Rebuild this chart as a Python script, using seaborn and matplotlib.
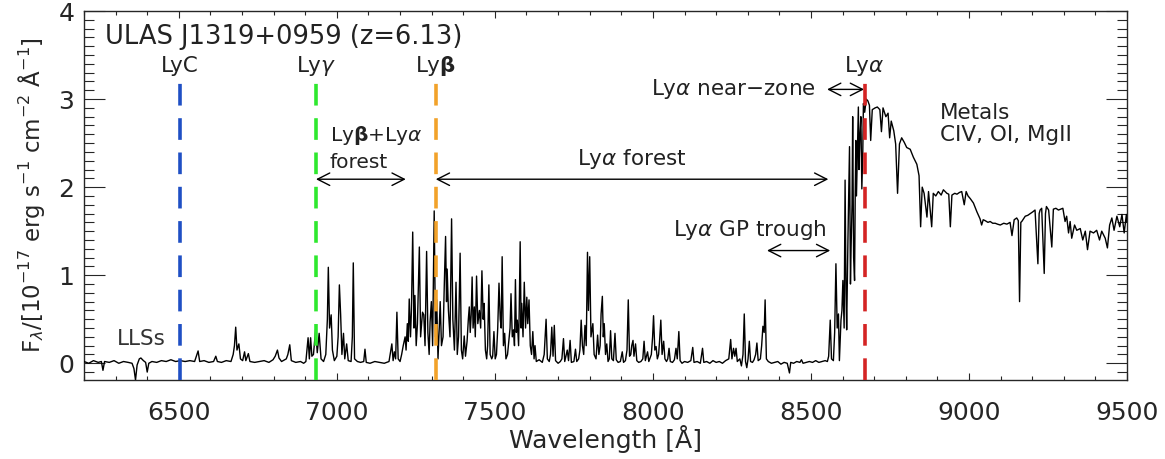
import numpy as np
import pandas as pd
import matplotlib
matplotlib.use("Agg")
import matplotlib.pyplot as plt
import seaborn as sns

# ---------------- data ----------------
wavelength = [
    6200, 6215, 6230, 6245, 6255, 6260, 6265, 6280, 6295, 6310, 6325, 6340, 6352, 6358, 6363, 6368,
    6375, 6380, 6388, 6395, 6400, 6405, 6415, 6430, 6445, 6460, 6475, 6490, 6505, 6520, 6535, 6550,
    6561, 6566, 6580, 6595, 6610, 6617, 6622, 6635, 6650, 6665, 6672, 6676, 6680, 6684, 6690, 6695,
    6702, 6708, 6712, 6720, 6725, 6740, 6755, 6770, 6785, 6798, 6805, 6812, 6817, 6825, 6840, 6845,
    6851, 6856, 6870, 6885, 6895, 6902, 6909, 6913, 6917, 6921, 6926, 6933, 6938, 6944, 6950, 6958,
    6965, 6970, 6973, 6977, 6982, 6986, 6992, 7000, 7004, 7008, 7012, 7016, 7021, 7025, 7031, 7036,
    7045, 7049, 7052, 7056, 7065, 7075, 7085, 7089, 7093, 7105, 7120, 7135, 7150, 7165, 7174, 7178,
    7182, 7186, 7190, 7194, 7200, 7205, 7210, 7216, 7219, 7223, 7226, 7229, 7233, 7236, 7240, 7244,
    7247, 7251, 7255, 7261, 7265, 7271, 7275, 7279, 7284, 7288, 7292, 7295, 7299, 7303, 7308, 7312,
    7316, 7320, 7324, 7327, 7331, 7336, 7340, 7344, 7347, 7349, 7353, 7358, 7363, 7367, 7372, 7377,
    7381, 7385, 7390, 7394, 7398, 7403, 7407, 7412, 7416, 7419, 7422, 7425, 7428, 7431, 7435, 7438,
    7442, 7446, 7451, 7455, 7459, 7463, 7466, 7470, 7474, 7477, 7481, 7485, 7490, 7493, 7497, 7501,
    7505, 7509, 7513, 7517, 7520, 7523, 7527, 7531, 7535, 7540, 7544, 7548, 7551, 7555, 7559, 7562,
    7565, 7568, 7571, 7575, 7577, 7580, 7583, 7585, 7589, 7593, 7597, 7601, 7604, 7608, 7612, 7616,
    7620, 7624, 7627, 7631, 7640, 7650, 7656, 7662, 7666, 7672, 7676, 7680, 7684, 7688, 7692, 7700,
    7707, 7712, 7717, 7721, 7729, 7733, 7738, 7742, 7750, 7755, 7759, 7765, 7769, 7773, 7777, 7781,
    7785, 7789, 7793, 7796, 7800, 7804, 7810, 7814, 7820, 7825, 7829, 7833, 7836, 7840, 7843, 7846,
    7850, 7854, 7858, 7862, 7866, 7870, 7875, 7880, 7884, 7890, 7897, 7903, 7907, 7913, 7918, 7922,
    7926, 7930, 7933, 7937, 7940, 7945, 7949, 7955, 7962, 7968, 7972, 7976, 7983, 7987, 7995, 7999,
    8002, 8006, 8010, 8014, 8018, 8021, 8025, 8029, 8034, 8038, 8043, 8047, 8051, 8055, 8062, 8068,
    8073, 8077, 8082, 8086, 8092, 8100, 8110, 8120, 8126, 8130, 8140, 8150, 8157, 8161, 8170, 8180,
    8190, 8200, 8210, 8220, 8230, 8240, 8246, 8250, 8255, 8259, 8263, 8267, 8275, 8280, 8285, 8289,
    8293, 8297, 8301, 8305, 8309, 8315, 8320, 8325, 8329, 8333, 8340, 8344, 8348, 8352, 8355, 8359,
    8365, 8375, 8385, 8395, 8405, 8415, 8425, 8432, 8436, 8445, 8455, 8465, 8470, 8475, 8485, 8495,
    8505, 8515, 8525, 8535, 8545, 8552, 8556, 8561, 8565, 8571, 8575, 8579, 8583, 8587, 8590, 8595,
    8598, 8601, 8605, 8608, 8611, 8613, 8617, 8622, 8625, 8627, 8630, 8632, 8635, 8638, 8640, 8642,
    8644, 8647, 8650, 8652, 8655, 8658, 8661, 8664, 8666, 8670, 8675, 8680, 8685, 8689, 8694, 8703,
    8710, 8718, 8723, 8728, 8737, 8744, 8749, 8754, 8762, 8768, 8774, 8780, 8787, 8795, 8803, 8814,
    8824, 8835, 8842, 8847, 8852, 8858, 8867, 8872, 8882, 8887, 8895, 8903, 8912, 8919, 8930, 8936,
    8941, 8946, 8955, 8962, 8970, 8977, 8985, 8991, 8997, 9004, 9014, 9025, 9035, 9040, 9045, 9051,
    9060, 9067, 9075, 9083, 9090, 9099, 9110, 9120, 9130, 9136, 9143, 9151, 9156, 9160, 9164, 9167,
    9178, 9186, 9194, 9202, 9209, 9218, 9222, 9225, 9230, 9238, 9242, 9245, 9252, 9262, 9267, 9275,
    9283, 9290, 9297, 9304, 9309, 9315, 9320, 9325, 9334, 9341, 9352, 9360, 9368, 9375, 9383, 9394,
    9404, 9413, 9420, 9431, 9438, 9445, 9452, 9459, 9468, 9477, 9484, 9491, 9498, 9500,
]
flux = [
    0.02, 0.00, 0.03, 0.01, 0.02, -0.08, 0.02, 0.01, 0.03, 0.00, 0.02, 0.01, 0.00, -0.06, -0.19, -0.02,
    0.05, 0.06, 0.03, 0.01, -0.10, 0.00, 0.02, 0.01, 0.03, 0.02, 0.04, 0.02, 0.03, 0.02, 0.03, 0.02,
    0.14, 0.02, 0.03, 0.01, 0.02, 0.08, 0.02, 0.01, 0.03, 0.02, 0.10, 0.20, 0.41, 0.15, 0.22, 0.05,
    0.03, 0.13, 0.03, 0.11, 0.02, 0.01, 0.02, 0.03, 0.01, 0.04, 0.08, 0.15, 0.06, 0.02, 0.05, 0.10,
    0.21, 0.03, 0.01, 0.02, 0.00, 0.02, 0.29, 0.05, 0.29, 0.08, 0.10, 0.39, 0.12, 0.34, 0.05, 0.02,
    0.10, 0.50, 1.09, 0.40, 0.55, 0.15, 0.03, 0.08, 0.30, 0.89, 0.55, 0.10, 0.34, 0.05, 0.22, 0.03,
    0.02, 0.30, 1.14, 0.05, 0.02, 0.01, 0.02, 0.16, 0.01, 0.00, 0.02, 0.01, 0.00, 0.02, 0.22, 0.03,
    0.13, 0.05, 0.58, 0.05, 0.02, 0.10, 0.20, 0.30, 0.15, 0.45, 0.25, 0.73, 0.30, 0.60, 1.49, 0.40,
    0.77, 0.20, 0.45, 1.32, 0.30, 0.58, 0.55, 0.20, 1.27, 0.35, 0.10, 0.47, 0.70, 0.20, 1.73, 0.30,
    0.72, 0.05, 0.40, 0.70, 0.20, 0.30, 0.90, 1.44, 0.70, 1.07, 0.60, 0.30, 1.64, 0.50, 0.15, 0.92,
    0.10, 0.30, 1.25, 0.15, 0.05, 0.31, 0.08, 0.25, 0.50, 0.64, 0.35, 0.55, 0.98, 0.40, 0.64, 0.30,
    0.99, 0.45, 0.60, 0.40, 1.05, 0.50, 0.68, 0.15, 0.05, 0.20, 0.89, 0.10, 0.05, 0.08, 0.36, 0.05,
    0.10, 0.40, 0.91, 0.50, 0.40, 1.21, 0.20, 0.34, 0.05, 0.10, 0.25, 0.40, 0.79, 0.30, 0.38, 0.20,
    0.95, 0.35, 0.49, 0.20, 0.60, 1.38, 0.40, 0.68, 0.30, 0.92, 0.40, 0.75, 0.45, 0.72, 0.20, 0.10,
    0.36, 0.05, 0.20, 0.02, 0.04, 0.01, 0.10, 0.50, 0.05, 0.02, 0.10, 0.41, 0.08, 0.43, 0.03, 0.00,
    0.02, 0.05, 0.28, 0.02, 0.15, 0.03, 0.26, 0.01, 0.02, 0.16, 0.02, 0.05, 0.15, 0.49, 0.20, 0.10,
    0.43, 0.20, 1.26, 0.60, 1.21, 0.30, 0.45, 0.10, 0.05, 0.32, 0.10, 0.20, 0.56, 0.76, 0.30, 0.45,
    0.10, 0.22, 0.02, 0.05, 0.37, 0.05, 0.03, 0.34, 0.04, 0.01, 0.02, 0.13, 0.01, 0.03, 0.15, 0.72,
    0.08, 0.10, 0.20, 0.26, 0.08, 0.22, 0.03, 0.01, 0.02, 0.05, 0.25, 0.03, 0.13, 0.02, 0.10, 0.30,
    0.54, 0.15, 0.19, 0.05, 0.10, 0.25, 0.49, 0.10, 0.25, 0.05, 0.02, 0.05, 0.17, 0.02, 0.01, 0.04,
    0.17, 0.05, 0.36, 0.03, 0.00, 0.02, 0.01, 0.03, 0.18, 0.01, 0.02, 0.00, 0.17, 0.01, 0.02, 0.00,
    0.03, 0.01, 0.02, 0.00, 0.03, 0.05, 0.27, 0.05, 0.17, 0.08, 0.17, 0.02, 0.05, -0.03, 0.10, 0.56,
    0.02, -0.05, 0.05, 0.25, 0.02, 0.01, 0.04, 0.10, 0.23, 0.03, 0.05, 0.20, 0.42, 0.35, 0.72, 0.05,
    0.02, 0.00, 0.01, 0.02, -0.01, 0.01, 0.00, -0.11, 0.01, 0.00, 0.02, 0.01, 0.04, 0.00, 0.01, 0.02,
    0.01, 0.03, 0.01, 0.02, 0.03, 0.02, 0.08, 0.49, 0.05, 0.03, 0.35, 1.13, 0.40, 0.56, 0.03, 0.49,
    0.60, 0.94, 0.40, 2.08, 0.80, 0.38, 1.40, 2.46, 0.90, 1.32, 1.80, 2.80, 1.20, 0.94, 1.90, 2.53,
    1.90, 2.40, 2.91, 2.20, 2.60, 2.80, 1.98, 2.40, 2.95, 2.85, 3.00, 2.98, 2.93, 2.53, 2.88, 2.90,
    2.91, 2.88, 2.63, 2.90, 2.80, 2.84, 2.56, 2.75, 2.64, 2.49, 1.93, 2.49, 2.56, 2.51, 2.45, 2.43,
    2.34, 2.26, 2.13, 1.55, 2.00, 1.93, 1.66, 1.95, 1.55, 1.93, 1.90, 1.95, 1.91, 1.97, 1.93, 1.92,
    1.55, 1.91, 1.93, 1.92, 1.94, 1.95, 1.80, 1.95, 1.90, 1.87, 1.82, 1.72, 1.64, 1.57, 1.63, 1.62,
    1.60, 1.61, 1.59, 1.59, 1.58, 1.57, 1.59, 1.58, 1.60, 1.45, 1.63, 1.65, 1.62, 0.70, 1.60, 1.61,
    1.67, 1.68, 1.70, 1.72, 1.74, 1.13, 1.70, 1.74, 1.76, 1.02, 1.70, 1.78, 1.74, 1.32, 1.75, 1.76,
    1.74, 1.75, 1.76, 1.61, 1.67, 1.48, 1.61, 1.42, 1.57, 1.51, 1.53, 1.40, 1.50, 1.29, 1.50, 1.48,
    1.51, 1.40, 1.50, 1.42, 1.31, 1.57, 1.65, 1.51, 1.67, 1.55, 1.69, 1.48, 1.69, 1.60,
]

line_names = ["LyC", r"Ly$\gamma$", r"Ly$\mathbf{\beta}$", r"Ly$\alpha$"]
line_waves = [6503, 6934, 7313, 8670]
line_colors = ["#1f4fc4", "#2ee82e", "#f2a22a", "#d42424"]

xticks_major = [6500, 7000, 7500, 8000, 8500, 9000, 9500]
yticks_major = [0, 1, 2, 3, 4]

# ---------------- figure ----------------
sns.set_style("ticks")
plt.rcParams["font.family"] = ["DejaVu Sans"]
plt.rcParams["mathtext.fontset"] = "dejavusans"

TXT = "#222222"
FS = 15.5

fig = plt.figure(figsize=(11.65, 4.59), dpi=100, facecolor="white")
ax = fig.add_axes([0.0721, 0.1721, 0.8953, 0.8039])

df = pd.DataFrame({"wave": wavelength, "flux": flux})
sns.lineplot(data=df, x="wave", y="flux", color="black", lw=1.0,
             estimator=None, sort=True, ax=ax, zorder=3)

ax.set_xlim(6200, 9500)
ax.set_ylim(-0.19, 4.0)

# dashed lines marking Lyman series
for name, w, c in zip(line_names, line_waves, line_colors):
    ax.vlines(w, -0.19, 3.25, colors=c, linestyles=(0, (6, 3.5)), lw=2.6, zorder=4)
    ax.text(w, 3.37, name, ha="center", va="center", fontsize=FS, color=TXT)

ax.text(0.020, 0.929, "ULAS J1319+0959 (z=6.13)", transform=ax.transAxes,
        ha="left", va="center", fontsize=18.5, color=TXT)

arrow = dict(arrowstyle="<->,head_length=0.55,head_width=0.28", lw=1.0,
             color="black", shrinkA=0, shrinkB=0, mutation_scale=16)

# Lyb + Lya forest
ax.annotate("", xy=(6934, 2.09), xytext=(7218, 2.09), arrowprops=arrow)
ax.text(6978, 2.52, r"Ly$\mathbf{\beta}$+Ly$\alpha$", ha="left", va="baseline",
        fontsize=14.5, color=TXT)
ax.text(6978, 2.22, "forest", ha="left", va="baseline", fontsize=14.5, color=TXT)

# Lya forest
ax.annotate("", xy=(7313, 2.09), xytext=(8555, 2.09), arrowprops=arrow)
ax.text(7934, 2.32, r"Ly$\alpha$ forest", ha="center", va="center",
        fontsize=FS, color=TXT)

# GP trough
ax.annotate("", xy=(8361, 1.28), xytext=(8561, 1.28), arrowprops=arrow)
ax.text(8308, 1.51, r"Ly$\alpha$ GP trough", ha="center", va="center",
        fontsize=FS, color=TXT)

# near-zone
ax.annotate("", xy=(8551, 3.11), xytext=(8668, 3.11), arrowprops=arrow)
ax.text(8515, 3.11, r"Ly$\alpha$ near$-$zone", ha="right", va="center",
        fontsize=FS, color=TXT)

# metals
ax.text(8909, 2.84, "Metals", ha="left", va="center", fontsize=FS, color=TXT)
ax.text(8909, 2.59, "CIV, OI, MgII", ha="left", va="center", fontsize=FS, color=TXT)

# LLSs
ax.text(6380, 0.28, "LLSs", ha="center", va="center", fontsize=FS, color="#333333")

# axes styling (IDL-like)
ax.set_xticks(xticks_major)
ax.set_xticks(np.arange(6200, 9501, 100), minor=True)
ax.set_yticks(yticks_major)
ax.set_yticks(np.arange(-0.1, 4.0001, 0.1), minor=True)
ax.tick_params(axis="x", which="major", direction="in", length=5, width=0.8,
               top=True, bottom=True, labelsize=18, pad=15)
ax.tick_params(axis="x", which="minor", direction="in", length=3, width=0.8,
               top=True, bottom=True)
ax.tick_params(axis="y", which="major", direction="in", length=15, width=0.8,
               left=True, right=True, labelsize=18, pad=7)
ax.tick_params(axis="y", which="minor", direction="in", length=7, width=0.8,
               left=True, right=True)
for s in ax.spines.values():
    s.set_linewidth(1.0)
    s.set_visible(True)

ax.set_xlabel(r"Wavelength [Å]", fontsize=18, labelpad=0)
ax.set_ylabel(r"F$_\lambda$/[10$^{-17}$ erg s$^{-1}$ cm$^{-2}$ Å$^{-1}$]",
              fontsize=16.5, labelpad=8)

fig.savefig("out.png", dpi=100, facecolor="white")
